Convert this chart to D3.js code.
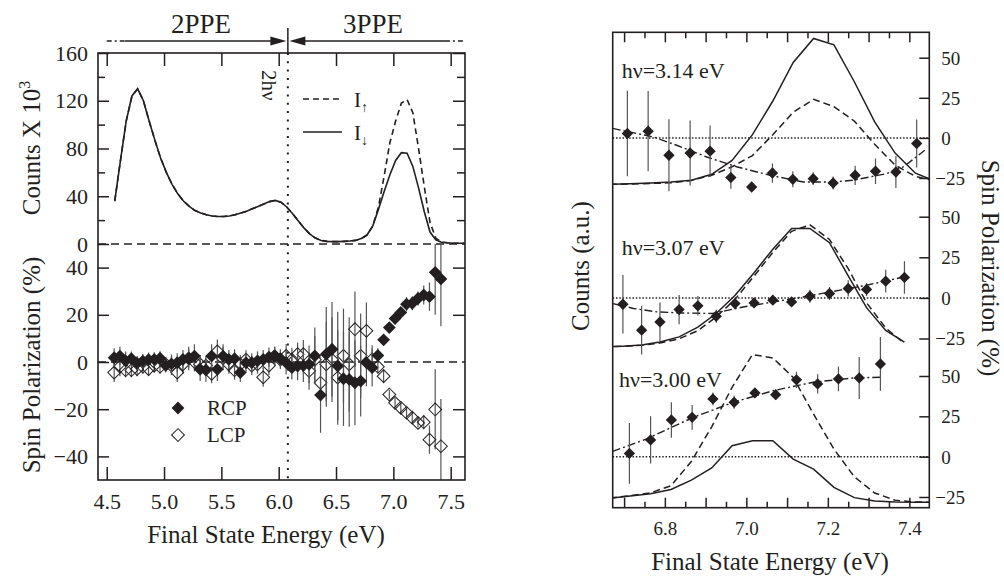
<!DOCTYPE html>
<html>
<head>
<meta charset="utf-8">
<script src="https://cdnjs.cloudflare.com/ajax/libs/d3/7.8.5/d3.min.js"></script>
<style>
  body { margin: 0; background: #fff; }
  svg text { font-family: "Liberation Serif", "Times New Roman", serif; }
</style>
</head>
<body>
<div id="chart"></div>
<script>
// ---------- left panel data ----------
var cntE = [4.57,4.62,4.67,4.72,4.77,4.82,4.87,4.92,4.97,5.02,5.07,5.12,5.17,5.22,5.27,5.32,5.37,5.42,5.47,5.52,
  5.57,5.62,5.67,5.72,5.77,5.82,5.87,5.92,5.97,6.02,6.07,6.12,6.17,6.22,6.27,6.32,6.37,6.42,6.47,6.52,
  6.57,6.62,6.67,6.72,6.77,6.82,6.87,6.92,6.97,7.02,7.07,7.12,7.17,7.22,7.27,7.32,7.37,7.42,7.47,7.52,7.57,7.62];
var cntDown = [36,70,103,124,130,120,103,87,72,60,50,42,36,31.5,28,26,24.5,23.5,23,23,
  23.5,24.5,26,27.5,29.5,31.5,33.5,35.5,36.5,35,31,25.5,19.5,13.5,8.5,5,3,2.2,2,2,
  2.2,2.5,3,4.5,7.5,15,29,44,58,70,76.5,76,65,47,27,10,3.5,1.5,1,0.6,0.5,0.5];
var cntUp = [36,70,103,124,130,120,103,87,72,60,50,42,36,31.5,28,26,24.5,23.5,23,23,
  23.5,24.5,26,27.5,29.5,31.5,33.5,35.5,36.5,35,31,25.5,19.5,13.5,8.5,5,3,2.2,2,2,
  2.2,2.5,3,4.5,7.5,15,31,57,85,103,118,121,110,80,48,18,5,1.5,1,0.6,0.5,0.5];

var polE = [4.565,4.615,4.665,4.715,4.765,4.815,4.865,4.915,4.965,5.015,5.065,5.115,5.165,5.215,5.265,5.315,5.365,5.415,5.465,5.515,
  5.565,5.615,5.665,5.715,5.765,5.815,5.865,5.915,5.965,6.015,6.065,6.115,6.165,6.215,6.265,6.315,6.365,6.415,6.465,6.515,
  6.565,6.615,6.665,6.715,6.765,6.815,6.865,6.915,6.965,7.015,7.065,7.115,7.165,7.215,7.265,7.315,7.365,7.415];
var rcp = [1.8,2.5,0.5,1.4,-0.5,0.4,1,1.1,1.6,-1.4, -0.8,-0.3,1.1,1.5,2.5,-3.1,-3.4,2.5,-3.1,2.5,
  1.1,1.4,-4.5,-0.3,-0.3,0.5,1.1,2.1,2.5,1.4, -0.3,-2.4,-1.7,-1.5,-1,2.6,-14,3.3,5.4,-1.7,
  -7.1,-7.4,-8.8,-8.1,-0.3,-2.4,2.8,9.4,14.6,18.4, 21,24.5,24.9,26.9,28.4,27.7,38,35.2];
var rcpErr = [4,4,4,3,3,3,3,3,3,3, 4,4,4,5,5,5,5,5,5,5, 4,4,4,4,4,4,4,4,4,4,
  5,5,6,7,8,12,16,20,20,23, 20,20,18,15,10,8,3,2,2,2, 2,3,3,3,4,6,18,20];
var lcp = [-4.5,-2,-3.5,-3.5,-3,-2,-3,-1.5,-2,-1, -1.5,-4.5,-1,1.5,0,-1,-1.5,-5,4.5,1.5,
  -1,-3.5,-1,1,-1.5,-1,-6.5,-1.5,2.5,1, 2.6,1,3.3,3.3,-3.8,1,-8.8,-1,1,-6.6,
  2.6,-1,13.9,2.6,13.2,1.1,-2,-6,-13.8,-17.3, -19.4,-21.5,-23.6,-25.8,-25.5,-32.9,-20.1,-35.7];
var lcpErr = [4,4,3,3,3,3,3,3,3,3, 4,4,4,4,4,4,4,4,5,5, 4,4,4,4,4,4,4,4,4,4,
  5,5,5,6,8,10,8,18,18,20, 20,20,16,18,12,6,3,3,2,2, 2,2,2,2,3,6,17,20];

var twoHv = 6.08;
var xTicksL = [4.5,5.0,5.5,6.0,6.5,7.0,7.5];
var countTicks = [0,40,80,120,160];
var countMinor = [20,60,100,140];
var polTicks = [-40,-20,0,20,40];

// ---------- right panel data (three photon energies) ----------
var hvNames = ["hν=3.14 eV", "hν=3.07 eV", "hν=3.00 eV"];

var p314E = [6.708,6.759,6.810,6.862,6.911,6.962,7.013,7.064,7.114,7.164,7.213,7.267,7.317,7.367,7.418];
var p314 = [2.75,4.2,-10.8,-9.4,-8.3,-24.75,-30.6,-21.9,-25.8,-25.4,-28.1,-23.3,-20.8,-21.25,-3.5];
var p314Err = [26.6,25,22.4,20.3,16,7,2,6,5,4,4,6,8,10,15];
var fit314E = [6.672,6.772,6.829,6.903,6.976,7.058,7.14,7.213,7.262,7.344,7.385,7.438];
var fit314 = [5.9,0.6,-4.6,-11.9,-18,-23.3,-27.5,-27.5,-26.4,-22.3,-18.1,-7.7];
var c314E = [6.665,6.715,6.765,6.815,6.865,6.915,6.965,7.015,7.065,7.115,7.165,7.215,7.265,7.315,7.365,7.415,7.465];
var c314Down = [0,0.4,0.9,1.5,2.6,6.3,15,31,52,76,91,87,64,39,19.5,7,1.8];
var c314Up = [0,0.3,0.6,1,2.5,5.7,11,18,31,45,53,48.5,39.5,25,12,5,2];

var p307E = [6.697,6.743,6.788,6.835,6.881,6.926,6.972,7.019,7.065,7.111,7.156,7.204,7.25,7.295,7.342,7.388];
var p307 = [-3.9,-19.9,-14.8,-7.2,-4.9,-11.3,-3.5,-3.1,-1.4,-2.5,1,2.7,5.8,5.2,10.3,12.6];
var p307Err = [18,15,12,9,6,4,3,3,3,3,4,4,5,4,7,10];
var fit307E = [6.673,6.723,6.78,6.845,6.918,6.992,7.066,7.148,7.23,7.295,7.388];
var fit307 = [-3.5,-6.5,-8.6,-9.3,-9.6,-5.6,-2.5,1,4.8,7.8,13];
var c307E = [6.65,6.697,6.743,6.788,6.835,6.881,6.926,6.972,7.019,7.065,7.111,7.156,7.204,7.25,7.295,7.342,7.388];
var c307Down = [0,0.2,1,2.9,6,12,20.4,31.5,45.5,60,72.8,72.8,64,43.5,24,10,2.8];
var c307Up = [0,0.2,0.8,2.2,4.8,9.8,18.3,29,43.5,58,71,75,66,48,27,11.5,1.9];

var p300E = [6.713,6.765,6.816,6.867,6.918,6.970,7.021,7.072,7.123,7.175,7.226,7.277,7.329];
var p300 = [2,10.4,22.8,24.4,35.8,33.7,39.5,38.4,47.6,45.1,48.2,48.8,57.5];
var p300Err = [18.8,14.7,11,7.7,4,4,3,3,5,6,7.7,13,16.7];
var fit300E = [6.672,6.755,6.87,6.968,7.066,7.164,7.262,7.332];
var fit300 = [3.3,11,24.4,33.7,40.9,46.1,48.8,49.2];
var c300E = [6.665,6.715,6.765,6.815,6.865,6.915,6.965,7.015,7.065,7.115,7.165,7.215,7.265,7.315,7.365,7.415,7.465];
var c300Down = [3.3,4.6,6,8.7,14.5,22,35.8,38.9,38.9,27.5,21.3,10,3.6,1.5,0.9,0.7,0.7];
var c300Up = [3.3,4.8,6.6,11,26,47.5,72,92.3,90.2,78.1,55.4,33.7,16.5,6.5,2,0.9,0.7];

var rightTicks = [-25,0,25,50];
var xTicksRMajor = [6.7,6.8,6.9,7.0,7.1,7.2,7.3,7.4];
var xTicksRMinor = [6.75,6.85,6.95,7.05,7.15,7.25,7.35];
var xLabelsR = [6.8,7.0,7.2,7.4];

// ---------- setup ----------
var font = "Liberation Serif, Times New Roman, serif";
var ink = "#231f20";
var barInk = "#555";

var svg = d3.select("#chart").append("svg")
    .attr("width", 1004)
    .attr("height", 579);

function styleAxis(g, size) {
    g.attr("font-family", font).attr("font-size", size);
    g.select(".domain").remove();
    g.selectAll(".tick line").attr("stroke", ink).attr("stroke-width", 1.5);
    g.selectAll(".tick text").attr("fill", ink);
    return g;
}

// ================= LEFT PANEL =================
var L = { left: 98, right: 465, top: 53, mid: 244, bottom: 480 };
var xL = d3.scaleLinear().domain([4.424, 7.625]).range([L.left, L.right]);
var yC = d3.scaleLinear().domain([0, 160]).range([L.mid, L.top]);
var yP = d3.scaleLinear().domain([-50, 50]).range([L.bottom, L.mid]);

var defs = svg.append("defs");
defs.append("clipPath").attr("id", "clipCnt").append("rect")
    .attr("x", L.left).attr("y", L.top).attr("width", L.right - L.left).attr("height", L.mid - L.top);
defs.append("clipPath").attr("id", "clipPol").append("rect")
    .attr("x", L.left).attr("y", L.mid).attr("width", L.right - L.left).attr("height", L.bottom - L.mid);

// axes
styleAxis(svg.append("g").attr("transform", "translate(0," + L.bottom + ")")
    .call(d3.axisBottom(xL).tickValues(xTicksL).tickSize(-13).tickPadding(13).tickFormat(d3.format(".1f"))), 22);
styleAxis(svg.append("g").attr("transform", "translate(0," + L.top + ")")
    .call(d3.axisTop(xL).tickValues(xTicksL).tickSize(-13).tickFormat("")), 22);
styleAxis(svg.append("g").attr("transform", "translate(" + L.left + ",0)")
    .call(d3.axisLeft(yC).tickValues(countTicks).tickSize(-11).tickPadding(10)), 22);
styleAxis(svg.append("g").attr("transform", "translate(" + L.left + ",0)")
    .call(d3.axisLeft(yC).tickValues(countMinor).tickSize(-7).tickFormat("")), 22);
styleAxis(svg.append("g").attr("transform", "translate(" + L.right + ",0)")
    .call(d3.axisRight(yC).tickValues(countTicks.slice(1)).tickSize(-12).tickFormat("")), 22);
styleAxis(svg.append("g").attr("transform", "translate(" + L.right + ",0)")
    .call(d3.axisRight(yC).tickValues(countMinor).tickSize(-8).tickFormat("")), 22);
styleAxis(svg.append("g").attr("transform", "translate(" + L.left + ",0)")
    .call(d3.axisLeft(yP).tickValues(polTicks).tickSize(-11).tickPadding(10)), 22);
styleAxis(svg.append("g").attr("transform", "translate(" + L.right + ",0)")
    .call(d3.axisRight(yP).tickValues([-40, -20, 20, 40]).tickSize(-12).tickFormat("")), 22);

// zero lines
svg.append("line")
    .attr("x1", L.left).attr("x2", L.right).attr("y1", yC(0)).attr("y2", yC(0))
    .attr("stroke", ink).attr("stroke-width", 1.3).attr("stroke-dasharray", "8,5");
svg.append("line")
    .attr("x1", L.left).attr("x2", L.right).attr("y1", yP(0)).attr("y2", yP(0))
    .attr("stroke", ink).attr("stroke-width", 1.3).attr("stroke-dasharray", "8,5");

// 2hv line
svg.append("line")
    .attr("x1", xL(twoHv)).attr("x2", xL(twoHv)).attr("y1", L.top).attr("y2", L.bottom)
    .attr("stroke", ink).attr("stroke-width", 2).attr("stroke-dasharray", "2,6.3");
svg.append("text")
    .attr("transform", "translate(" + (xL(twoHv) - 26) + ",70) rotate(90)")
    .attr("font-size", 21).attr("fill", ink)
    .text("2hν");

// counts curves
var cntLine = d3.line().x(function (d) { return xL(d[0]); }).y(function (d) { return yC(d[1]); });
var gCnt = svg.append("g").attr("clip-path", "url(#clipCnt)");
gCnt.append("path").datum(d3.zip(cntE, cntUp))
    .attr("d", cntLine).attr("fill", "none").attr("stroke", ink)
    .attr("stroke-width", 1.6).attr("stroke-dasharray", "6,4");
gCnt.append("path").datum(d3.zip(cntE, cntDown))
    .attr("d", cntLine).attr("fill", "none").attr("stroke", ink).attr("stroke-width", 1.6);

// legend I up / I down
svg.append("line").attr("x1", 303).attr("x2", 342).attr("y1", 99).attr("y2", 99)
    .attr("stroke", ink).attr("stroke-width", 1.6).attr("stroke-dasharray", "6,4");
svg.append("line").attr("x1", 303).attr("x2", 342).attr("y1", 132).attr("y2", 132)
    .attr("stroke", ink).attr("stroke-width", 1.6);
var legUp = svg.append("text").attr("x", 354).attr("y", 107).attr("font-size", 21).attr("fill", ink);
legUp.append("tspan").text("I");
legUp.append("tspan").attr("dy", 5).attr("font-size", 14).text("↑");
var legDn = svg.append("text").attr("x", 354).attr("y", 140).attr("font-size", 21).attr("fill", ink);
legDn.append("tspan").text("I");
legDn.append("tspan").attr("dy", 5).attr("font-size", 14).text("↓");

// polarization points
var diamondL = d3.symbol().type(d3.symbolSquare).size(82);
var gPol = svg.append("g").attr("clip-path", "url(#clipPol)");

var lcpData = d3.zip(polE, lcp, lcpErr);
var rcpData = d3.zip(polE, rcp, rcpErr);

gPol.selectAll(".lcpBar").data(lcpData).enter().append("line")
    .attr("x1", function (d) { return xL(d[0]); }).attr("x2", function (d) { return xL(d[0]); })
    .attr("y1", function (d) { return yP(d[1] - d[2]); }).attr("y2", function (d) { return yP(d[1] + d[2]); })
    .attr("stroke", barInk).attr("stroke-width", 1.2);
gPol.selectAll(".lcpPt").data(lcpData).enter().append("path")
    .attr("d", diamondL)
    .attr("transform", function (d) { return "translate(" + xL(d[0]) + "," + yP(d[1]) + ") rotate(45)"; })
    .attr("fill", "none").attr("stroke", ink).attr("stroke-width", 1);
gPol.selectAll(".rcpBar").data(rcpData).enter().append("line")
    .attr("x1", function (d) { return xL(d[0]); }).attr("x2", function (d) { return xL(d[0]); })
    .attr("y1", function (d) { return yP(d[1] - d[2]); }).attr("y2", function (d) { return yP(d[1] + d[2]); })
    .attr("stroke", barInk).attr("stroke-width", 1.2);
gPol.selectAll(".rcpPt").data(rcpData).enter().append("path")
    .attr("d", diamondL)
    .attr("transform", function (d) { return "translate(" + xL(d[0]) + "," + yP(d[1]) + ") rotate(45)"; })
    .attr("fill", ink);

// RCP / LCP legend
svg.append("path").attr("d", diamondL).attr("transform", "translate(178,408) rotate(45)").attr("fill", ink);
svg.append("text").attr("x", 207).attr("y", 415).attr("font-size", 21).attr("fill", ink).text("RCP");
svg.append("path").attr("d", diamondL).attr("transform", "translate(178,435) rotate(45)")
    .attr("fill", "none").attr("stroke", ink).attr("stroke-width", 1);
svg.append("text").attr("x", 207).attr("y", 442).attr("font-size", 21).attr("fill", ink).text("LCP");

// frame
svg.append("rect")
    .attr("x", L.left).attr("y", L.top).attr("width", L.right - L.left).attr("height", L.bottom - L.top)
    .attr("fill", "none").attr("stroke", ink).attr("stroke-width", 1.6);

// 2PPE / 3PPE annotation
var annY = 41;
var tip = xL(twoHv);
svg.append("line").attr("x1", xL(4.5)).attr("x2", xL(4.66)).attr("y1", annY).attr("y2", annY)
    .attr("stroke", ink).attr("stroke-width", 1.3).attr("stroke-dasharray", "5,3,2,3");
svg.append("line").attr("x1", xL(4.66)).attr("x2", tip - 10).attr("y1", annY).attr("y2", annY)
    .attr("stroke", ink).attr("stroke-width", 1.3);
svg.append("path").attr("d", "M" + (tip - 1.5) + "," + annY + " l-16,-4.5 l0,9 z").attr("fill", ink);
svg.append("line").attr("x1", tip + 10).attr("x2", xL(7.45)).attr("y1", annY).attr("y2", annY)
    .attr("stroke", ink).attr("stroke-width", 1.3);
svg.append("path").attr("d", "M" + (tip + 1.5) + "," + annY + " l16,-4.5 l0,9 z").attr("fill", ink);
svg.append("line").attr("x1", xL(7.45)).attr("x2", L.right).attr("y1", annY).attr("y2", annY)
    .attr("stroke", ink).attr("stroke-width", 1.3).attr("stroke-dasharray", "5,3,2,3");
svg.append("line").attr("x1", tip).attr("x2", tip).attr("y1", 28).attr("y2", L.top)
    .attr("stroke", ink).attr("stroke-width", 1.5);
svg.append("text").attr("x", 201).attr("y", 33).attr("text-anchor", "middle")
    .attr("font-size", 27).attr("fill", ink).text("2PPE");
svg.append("text").attr("x", 373).attr("y", 33).attr("text-anchor", "middle")
    .attr("font-size", 27).attr("fill", ink).text("3PPE");

// axis titles
var cLab = svg.append("text")
    .attr("transform", "translate(40,148) rotate(-90)")
    .attr("text-anchor", "middle").attr("font-size", 25).attr("fill", ink);
cLab.append("tspan").text("Counts X 10");
cLab.append("tspan").attr("dy", -10).attr("font-size", 16).text("3");
svg.append("text")
    .attr("transform", "translate(40,365) rotate(-90)")
    .attr("text-anchor", "middle").attr("font-size", 25).attr("fill", ink)
    .text("Spin Polarization (%)");
svg.append("text").attr("x", 266).attr("y", 543).attr("text-anchor", "middle")
    .attr("font-size", 25).attr("fill", ink).text("Final State Energy (eV)");

// ================= RIGHT PANEL =================
var R = { left: 612.7, right: 929.3, top: 32.3, bottom: 507.7 };
var xR = d3.scaleLinear().domain([6.672, 7.449]).range([R.left, R.right]);
var panelRanges = [[178, 57.7], [338.5, 216.7], [497, 376]];
var countBase = [-29, -30, -29];
var yR = panelRanges.map(function (r) { return d3.scaleLinear().domain([-25, 50]).range(r); });

defs.append("clipPath").attr("id", "clipR").append("rect")
    .attr("x", R.left).attr("y", R.top).attr("width", R.right - R.left).attr("height", R.bottom - R.top);

var panels = [
    { name: hvNames[0], pE: p314E, p: p314, err: p314Err, fE: fit314E, f: fit314, cE: c314E, down: c314Down, up: c314Up, lx: 621.7, ly: 78 },
    { name: hvNames[1], pE: p307E, p: p307, err: p307Err, fE: fit307E, f: fit307, cE: c307E, down: c307Down, up: c307Up, lx: 621.7, ly: 255 },
    { name: hvNames[2], pE: p300E, p: p300, err: p300Err, fE: fit300E, f: fit300, cE: c300E, down: c300Down, up: c300Up, lx: 619, ly: 386.5 }
];

var diamondR = d3.symbol().type(d3.symbolSquare).size(64);
var gR = svg.append("g").attr("clip-path", "url(#clipR)");

panels.forEach(function (p, k) {
    var y = yR[k];
    // zero dotted line
    gR.append("line").attr("x1", R.left).attr("x2", R.right).attr("y1", y(0)).attr("y2", y(0))
        .attr("stroke", ink).attr("stroke-width", 1.5).attr("stroke-dasharray", "1.5,1.8");
    // counts
    var cl = d3.line().x(function (d) { return xR(d[0]); }).y(function (d) { return y(countBase[k] + d[1]); });
    gR.append("path").datum(d3.zip(p.cE, p.down)).attr("d", cl)
        .attr("fill", "none").attr("stroke", ink).attr("stroke-width", 1.5);
    gR.append("path").datum(d3.zip(p.cE, p.up)).attr("d", cl)
        .attr("fill", "none").attr("stroke", ink).attr("stroke-width", 1.5).attr("stroke-dasharray", "7,4");
    // fit
    var fl = d3.line().x(function (d) { return xR(d[0]); }).y(function (d) { return y(d[1]); });
    gR.append("path").datum(d3.zip(p.fE, p.f)).attr("d", fl)
        .attr("fill", "none").attr("stroke", ink).attr("stroke-width", 1.4).attr("stroke-dasharray", "8,3,2,3");
    // points
    var pts = d3.zip(p.pE, p.p, p.err);
    gR.selectAll(".bar" + k).data(pts).enter().append("line")
        .attr("x1", function (d) { return xR(d[0]); }).attr("x2", function (d) { return xR(d[0]); })
        .attr("y1", function (d) { return y(d[1] - d[2]); }).attr("y2", function (d) { return y(d[1] + d[2]); })
        .attr("stroke", barInk).attr("stroke-width", 1.2);
    gR.selectAll(".pt" + k).data(pts).enter().append("path")
        .attr("d", diamondR)
        .attr("transform", function (d) { return "translate(" + xR(d[0]) + "," + y(d[1]) + ") rotate(45)"; })
        .attr("fill", ink);
    // label
    svg.append("text").attr("x", p.lx).attr("y", p.ly).attr("font-size", 22).attr("fill", ink).text(p.name);
    // right axis
    var ax = styleAxis(svg.append("g").attr("transform", "translate(" + R.right + ",0)")
        .call(d3.axisRight(y).tickValues(rightTicks).tickSize(-10).tickPadding(12)), 19);
    ax.selectAll(".tick text").attr("dy", "0.34em")
        .attr("x", function (d) { return d < 0 ? 6 : 12; });
});

// right x axes
styleAxis(svg.append("g").attr("transform", "translate(0," + R.bottom + ")")
    .call(d3.axisBottom(xR).tickValues(xTicksRMajor).tickSize(-10).tickPadding(14)
        .tickFormat(function (d) { return xLabelsR.some(function (v) { return Math.abs(v - d) < 1e-6; }) ? d3.format(".1f")(d) : ""; })), 19);
styleAxis(svg.append("g").attr("transform", "translate(0," + R.bottom + ")")
    .call(d3.axisBottom(xR).tickValues(xTicksRMinor).tickSize(-6).tickFormat("")), 19);
styleAxis(svg.append("g").attr("transform", "translate(0," + R.top + ")")
    .call(d3.axisTop(xR).tickValues(xTicksRMajor).tickSize(-10).tickFormat("")), 19);
styleAxis(svg.append("g").attr("transform", "translate(0," + R.top + ")")
    .call(d3.axisTop(xR).tickValues(xTicksRMinor).tickSize(-6).tickFormat("")), 19);

svg.append("rect")
    .attr("x", R.left).attr("y", R.top).attr("width", R.right - R.left).attr("height", R.bottom - R.top)
    .attr("fill", "none").attr("stroke", ink).attr("stroke-width", 1.6);

svg.append("text")
    .attr("transform", "translate(589,266) rotate(-90)")
    .attr("text-anchor", "middle").attr("font-size", 25).attr("fill", ink)
    .text("Counts (a.u.)");
svg.append("text")
    .attr("transform", "translate(982,268) rotate(90)")
    .attr("text-anchor", "middle").attr("font-size", 25).attr("fill", ink)
    .text("Spin Polarization (%)");
svg.append("text").attr("x", 770).attr("y", 570).attr("text-anchor", "middle")
    .attr("font-size", 25).attr("fill", ink).text("Final State Energy (eV)");
</script>
</body>
</html>
